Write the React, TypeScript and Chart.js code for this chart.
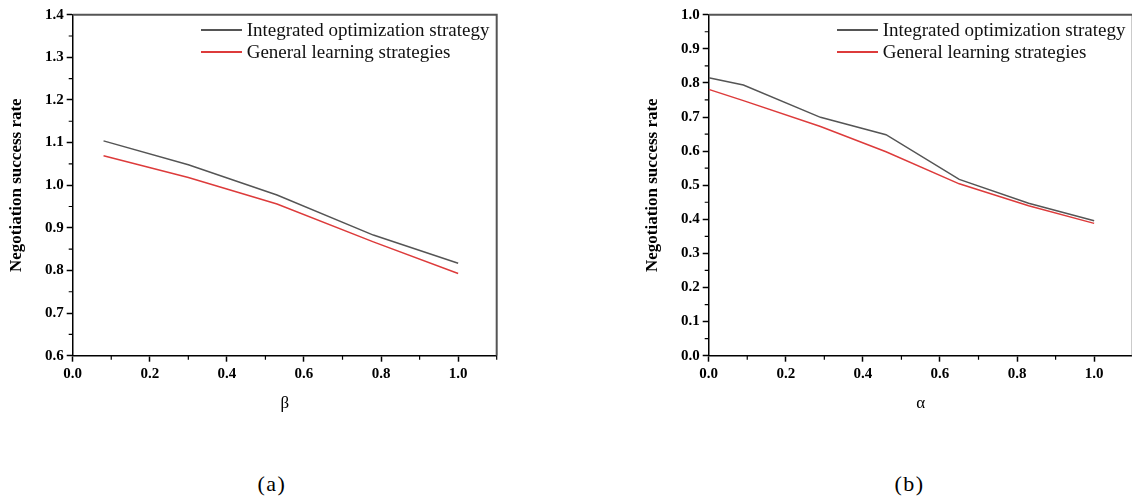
import React, { useEffect, useRef } from "react";
import { Chart, registerables } from "chart.js";

Chart.register(...registerables);

// ---- data ----
const seriesNames = ["Integrated optimization strategy", "General learning strategies"];
const seriesColors = ["#555555", "#dd3b3b"];

const betaX = [0.08, 0.3, 0.53, 0.78, 1.0];
const betaIntegrated = [1.104, 1.048, 0.977, 0.883, 0.817];
const betaGeneral = [1.069, 1.018, 0.956, 0.867, 0.793];

const alphaX = [0.0, 0.09, 0.29, 0.46, 0.65, 0.83, 1.0];
const alphaIntegrated = [0.815, 0.794, 0.699, 0.648, 0.517, 0.447, 0.396];
const alphaGeneral = [0.781, 0.748, 0.672, 0.598, 0.504, 0.44, 0.388];

const betaYTicks = { min: 0.6, max: 1.4, step: 0.1 };
const alphaYTicks = { min: 0.0, max: 1.0, step: 0.1 };
const xTicks = { min: 0.0, max: 1.1, step: 0.2 };

const FONT = "'Liberation Serif', 'Times New Roman', serif";

const frameAndMinor = {
  id: "frameAndMinor",
  afterDraw(chart: any) {
    const ctx = chart.ctx;
    const a = chart.chartArea;
    ctx.save();
    // top + right frame
    ctx.strokeStyle = "#555";
    ctx.lineWidth = 2;
    ctx.beginPath();
    ctx.moveTo(a.left, a.top);
    ctx.lineTo(a.right, a.top);
    ctx.lineTo(a.right, a.bottom);
    ctx.stroke();
    // minor ticks
    ctx.strokeStyle = "#000";
    ctx.lineWidth = 1.2;
    const xs = chart.scales.x;
    const ys = chart.scales.y;
    ctx.beginPath();
    for (let v = xs.min + 0.1; v <= xs.max + 1e-9; v += 0.2) {
      const px = xs.getPixelForValue(v);
      ctx.moveTo(px, a.bottom);
      ctx.lineTo(px, a.bottom + 4);
    }
    for (let v = ys.min + 0.05; v < ys.max; v += 0.1) {
      const py = ys.getPixelForValue(v);
      ctx.moveTo(a.left, py);
      ctx.lineTo(a.left - 4, py);
    }
    ctx.stroke();
    ctx.restore();
  },
};

function makeConfig(
  xs: number[],
  s1: number[],
  s2: number[],
  yt: { min: number; max: number; step: number },
  xTitle: string,
  padRight: number
): any {
  const toPts = (ys: number[]) => xs.map((x, i) => ({ x, y: ys[i] }));
  return {
    type: "line",
    data: {
      datasets: [
        {
          label: seriesNames[0],
          data: toPts(s1),
          borderColor: seriesColors[0],
          borderWidth: 1.5,
          pointRadius: 0,
          tension: 0,
          fill: false,
        },
        {
          label: seriesNames[1],
          data: toPts(s2),
          borderColor: seriesColors[1],
          borderWidth: 1.5,
          pointRadius: 0,
          tension: 0,
          fill: false,
        },
      ],
    },
    options: {
      responsive: false,
      animation: false,
      devicePixelRatio: 1,
      layout: { padding: { left: 0, top: 14.7, right: padRight, bottom: 0 } },
      plugins: { legend: { display: false }, tooltip: { enabled: false } },
      scales: {
        x: {
          type: "linear",
          min: xTicks.min,
          max: xTicks.max,
          afterFit: (s: any) => {
            s.height = 64.3;
          },
          ticks: {
            stepSize: xTicks.step,
            includeBounds: false,
            color: "#000",
            padding: 3,
            font: { family: FONT, size: 15, weight: "bold" },
            callback: (v: any) => Number(v).toFixed(1),
            maxRotation: 0,
          },
          grid: {
            drawOnChartArea: false,
            drawTicks: true,
            tickLength: 6,
            tickColor: "#000",
            tickWidth: 1.5,
          },
          border: { display: true, color: "#000", width: 1.5 },
          title: {
            display: true,
            text: xTitle,
            color: "#000",
            font: { family: FONT, size: 17 },
            padding: { top: 0, bottom: 6 },
          },
        },
        y: {
          type: "linear",
          min: yt.min,
          max: yt.max,
          afterFit: (s: any) => {
            s.width = 72.7;
          },
          ticks: {
            stepSize: yt.step,
            color: "#000",
            padding: 3,
            font: { family: FONT, size: 15, weight: "bold" },
            callback: (v: any) => Number(v).toFixed(1),
          },
          grid: {
            drawOnChartArea: false,
            drawTicks: true,
            tickLength: 6,
            tickColor: "#000",
            tickWidth: 1.5,
          },
          border: { display: true, color: "#000", width: 1.5 },
          title: {
            display: true,
            text: "Negotiation success rate",
            color: "#000",
            font: { family: FONT, size: 17, weight: "bold" },
            padding: { top: 6.5, bottom: 0 },
          },
        },
      },
    },
    plugins: [frameAndMinor],
  };
}

function Panel(props: {
  left: number;
  width: number;
  xs: number[];
  s1: number[];
  s2: number[];
  yt: { min: number; max: number; step: number };
  xTitle: string;
  padRight: number;
}) {
  const ref = useRef<HTMLCanvasElement | null>(null);
  useEffect(() => {
    if (!ref.current) return;
    const chart = new Chart(
      ref.current,
      makeConfig(props.xs, props.s1, props.s2, props.yt, props.xTitle, props.padRight)
    );
    return () => chart.destroy();
  }, []);
  return (
    <canvas
      ref={ref}
      width={props.width}
      height={420}
      style={{ position: "absolute", left: props.left, top: 0, width: props.width, height: 420 }}
    />
  );
}

function Legend(props: { lineLeft: number; textLeft: number }) {
  const rows = [30, 52];
  return (
    <>
      {seriesNames.map((name, i) => (
        <React.Fragment key={name}>
          <div
            style={{
              position: "absolute",
              left: props.lineLeft,
              top: rows[i] - 1,
              width: 41,
              height: 2,
              background: seriesColors[i],
            }}
          />
          <div
            style={{
              position: "absolute",
              left: props.textLeft,
              top: rows[i] - 11,
              height: 22,
              lineHeight: "22px",
              fontFamily: FONT,
              fontSize: 19,
              color: "#111",
              whiteSpace: "nowrap",
            }}
          >
            {name}
          </div>
        </React.Fragment>
      ))}
    </>
  );
}

function Caption(props: { cx: number; text: string }) {
  return (
    <div
      style={{
        position: "absolute",
        left: props.cx - 50,
        top: 471,
        width: 100,
        textAlign: "center",
        lineHeight: "26px",
        fontFamily: FONT,
        fontSize: 22,
        letterSpacing: "1.5px",
        color: "#000",
      }}
    >
      {props.text}
    </div>
  );
}

export default function App() {
  return (
    <div
      style={{
        position: "fixed",
        left: 0,
        top: 0,
        width: 1132,
        height: 497,
        overflow: "hidden",
        background: "#fff",
      }}
    >
      <Panel left={0} width={566} xs={betaX} s1={betaIntegrated} s2={betaGeneral} yt={betaYTicks} xTitle="β" padRight={69.3} />
      <Panel left={636} width={498} xs={alphaX} s1={alphaIntegrated} s2={alphaGeneral} yt={alphaYTicks} xTitle="α" padRight={1.3} />
      <Legend lineLeft={200.7} textLeft={246.7} />
      <Legend lineLeft={836.7} textLeft={882.7} />
      <Caption cx={272} text="(a)" />
      <Caption cx={909.5} text="(b)" />
    </div>
  );
}
